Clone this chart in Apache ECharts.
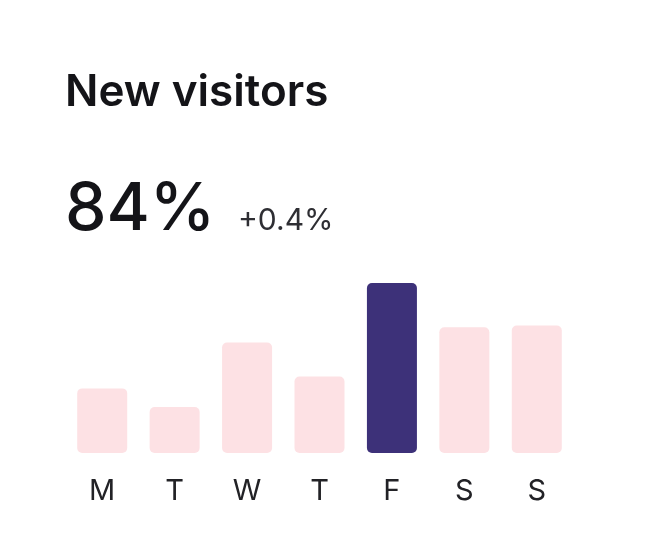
<!DOCTYPE html>
<html>
<head>
<meta charset="utf-8">
<script src="https://cdn.jsdelivr.net/npm/echarts@6/dist/echarts.min.js"></script>
<style>
  html, body { margin: 0; padding: 0; background: #ffffff; }
  #chart { width: 646px; height: 558px; }
</style>
</head>
<body>
<div id="chart"></div>
<script>
// ===== New visitors card =====
const days = ['M', 'T', 'W', 'T', 'F', 'S', 'S'];
const visits = [38, 27, 65, 45, 100, 74, 75];
const highlightIndex = 4;
const headline = '84%';
const delta = '+0.4%';

const FONT = 'Inter, "Noto Sans", sans-serif';
const PINK = '#fde1e4';
const NAVY = '#3d3179';

const chart = echarts.init(document.getElementById('chart'), null, { renderer: 'canvas' });

chart.setOption({
  backgroundColor: '#ffffff',
  animation: false,
  graphic: [
    { type: 'text', left: 65, top: 71,
      style: { text: 'New visitors', fill: '#141418', font: '600 44px ' + FONT } },
    { type: 'text', left: 65, top: 177,
      style: { text: headline, fill: '#141418', font: '500 66px ' + FONT } },
    { type: 'text', left: 238, top: 206,
      style: { text: delta, fill: '#2e2e33', font: '400 30px ' + FONT } }
  ],
  grid: { left: 66, right: 73, top: 283, bottom: 105 },
  xAxis: {
    type: 'category',
    data: days,
    axisLine: { show: false },
    axisTick: { show: false },
    axisLabel: { color: '#222226', fontFamily: FONT, fontSize: 29, margin: 24 }
  },
  yAxis: { type: 'value', min: 0, max: 100, show: false },
  series: [{
    type: 'bar',
    barWidth: 50,
    data: visits.map((v, i) => ({
      value: v,
      itemStyle: { color: i === highlightIndex ? NAVY : PINK }
    })),
    itemStyle: { borderRadius: 5 }
  }]
});
</script>
</body>
</html>
